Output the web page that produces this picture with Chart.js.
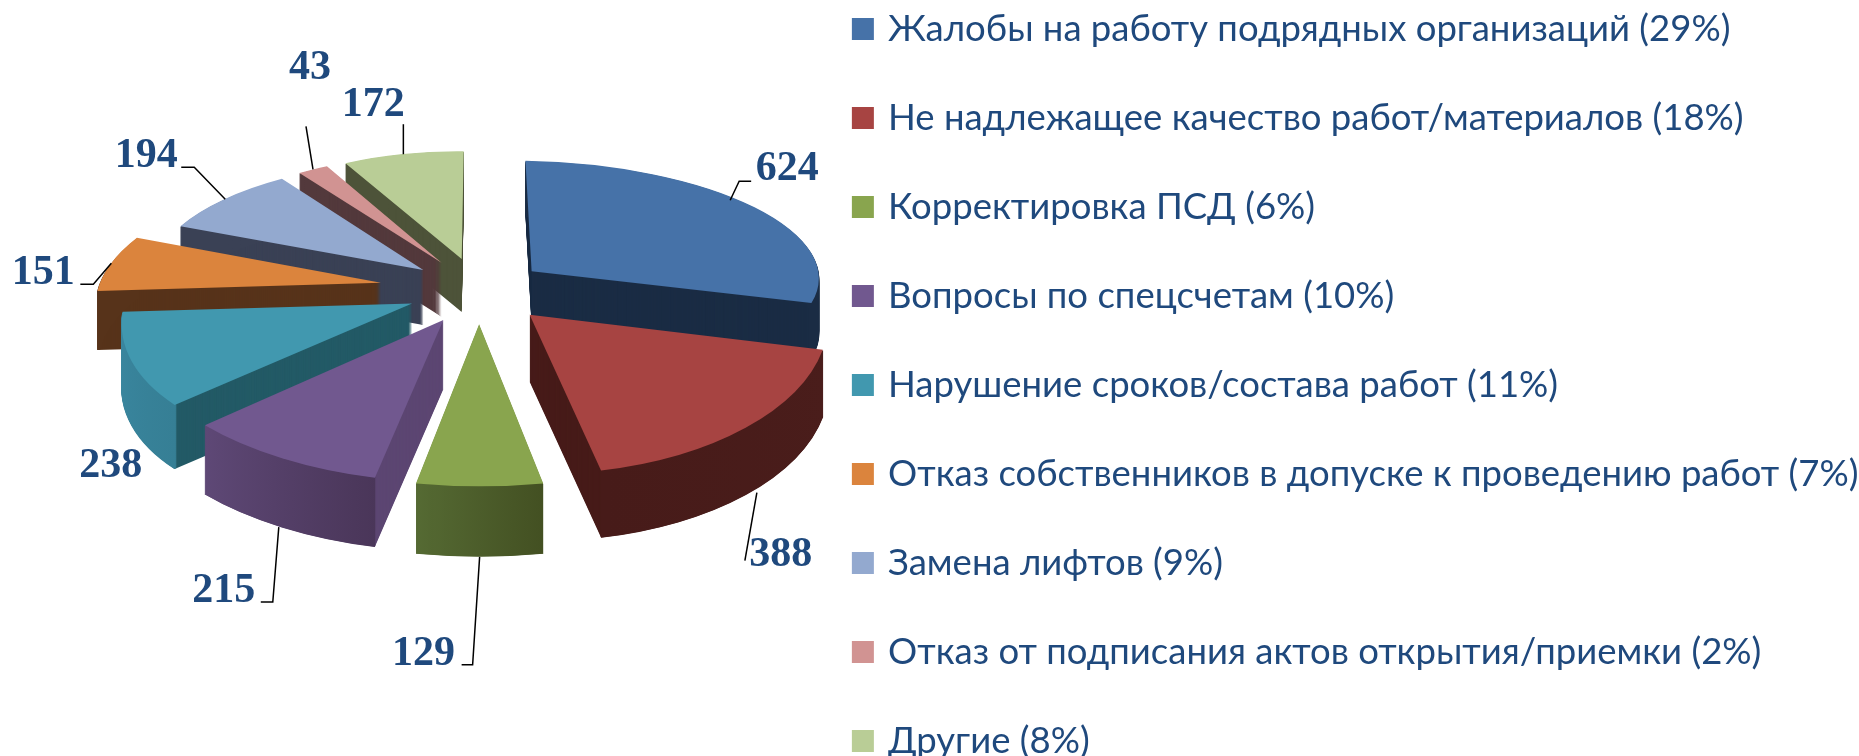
<!DOCTYPE html>
<html>
<head>
<meta charset="utf-8">
<title>Жалобы</title>
<script src="https://cdn.jsdelivr.net/npm/chart.js@4"></script>
<style>
html, body { margin: 0; padding: 0; background: #fff; overflow: hidden; height: 756px; }
canvas { display: block; }
</style>
</head>
<body>
<canvas id="pieChart" width="1859" height="1000"></canvas>
<script>
// ========== 数据 ==========
const categories = [
    'Жалобы на работу подрядных организаций',
    'Не надлежащее качество работ/материалов',
    'Корректировка ПСД',
    'Вопросы по спецсчетам',
    'Нарушение сроков/состава работ',
    'Отказ собственников в допуске к проведению работ',
    'Замена лифтов',
    'Отказ от подписания актов открытия/приемки',
    'Другие'
];
const values = [624, 388, 129, 215, 238, 151, 194, 43, 172];
const percents = [29, 18, 6, 10, 11, 7, 9, 2, 8];

// ========== 样式 ==========
const topColors = ['#4672A8', '#A74442', '#89A54E', '#71588F', '#4198AF', '#DB843D', '#93A9CF', '#D19392', '#B9CD96'];// 顶面颜色
const faceColors = ['#1A2C44', '#471B19', '#4A5A27', '#5C4672', '#235A66', '#57331A', '#3A4155', '#53393C', '#4D5339'];// 切面颜色
const rimColors = [// 外弧侧面颜色(渐变两端)
    ['#1A2C44', '#1A2C44'], ['#471B19', '#4A1D1B'], ['#556A33', '#435022'],
    ['#5E4876', '#4A3659'], ['#3A87A0', '#367F95'], ['#57331A', '#57331A'],
    ['#3A4155', '#3A4155'], ['#53393C', '#53393C'], ['#4D5339', '#4D5339']
];
const explode = [68, 72, 72, 72, 72, 100, 72, 72, 72];// 各扇区外移距离
// 引线折点和数字位置，相对于扇区外弧中点
const leaders = [
    { line: [[9, -19], [21, -19]], text: [57, -31] },
    { line: [[-12, 68]], text: [24, 62] },
    { line: [[-7, 108], [-18, 108]], text: [-56, 97] },
    { line: [[-6, 75], [-18, 75]], text: [-55, 64] },
    { line: [], text: [-19, 43] },
    { line: [[-18, 21], [-31, 21]], text: [-68, 10] },
    { line: [[-31, -32], [-44, -32]], text: [-79, -43] },
    { line: [[-7, -43]], text: [-3, -101] },
    { line: [[0, -30]], text: [-30, -49] }
];

const PIE_X = 479;// 饼图中心
const PIE_Y = 290;
const RADIUS = 283;
const TILT = 0.46;// 俯视压缩比例
const PERSPECTIVE = 0.00048;// 透视强度
const DEPTH = 60;// 饼图厚度
const LEGEND_FONT = 36.5;

// 平面坐标投影到屏幕
function project(px, py) {
    const w = 1 / (1 - PERSPECTIVE * py);
    return [PIE_X + px * w, PIE_Y + TILT * py * w, w];
}

// 用尖点和两个弧端点算出扇区的仿射变换
function sliceGeometry(arc, i) {
    const mid = (arc.startAngle + arc.endAngle) / 2;
    const ox = Math.cos(mid) * explode[i];
    const oy = Math.sin(mid) * explode[i];
    const ax = Math.cos(arc.startAngle) * RADIUS, ay = Math.sin(arc.startAngle) * RADIUS;
    const bx = Math.cos(arc.endAngle) * RADIUS, by = Math.sin(arc.endAngle) * RADIUS;
    const p0 = project(ox, oy);
    const pa = project(ox + ax, oy + ay);
    const pb = project(ox + bx, oy + by);
    const det = ax * by - ay * bx;
    const ua = [pa[0] - p0[0], pa[1] - p0[1]];
    const ub = [pb[0] - p0[0], pb[1] - p0[1]];
    const m = {
        a: (ua[0] * by - ub[0] * ay) / det,
        c: (ub[0] * ax - ua[0] * bx) / det,
        b: (ua[1] * by - ub[1] * ay) / det,
        d: (ub[1] * ax - ua[1] * bx) / det,
        e: p0[0],
        f: p0[1]
    };
    const sortKey = oy + Math.sin(mid) * RADIUS * 0.6;// 扇区重心的纵深，用于排序
    const depthY = oy + Math.sin(mid) * RADIUS * 0.8;
    const rim = project(ox + Math.cos(mid) * RADIUS, oy + Math.sin(mid) * RADIUS);
    return { m, sortKey, depth: DEPTH * project(0, depthY)[2], rim, mid };
}

function sliceTransform(ctx, arc, g, shift) {
    ctx.setTransform(g.m.a, g.m.b, g.m.c, g.m.d, g.m.e, g.m.f + shift);
    ctx.translate(-arc.x, -arc.y);
}

function arcOptions(color) {
    return { backgroundColor: color, borderWidth: 0, borderRadius: 0, offset: 0, spacing: 0, circular: true, borderAlign: 'center' };
}

// 画一个立体扇区：切面、外弧、顶面
function drawSlice(ctx, arc, i, g) {
    const original = arc.options;
    ctx.save();
    arc.options = arcOptions(faceColors[i]);
    for (let d = Math.round(g.depth); d >= 1; d--) {
        ctx.save();
        sliceTransform(ctx, arc, g, d);
        arc.draw(ctx);
        ctx.restore();
    }
    for (let d = Math.round(g.depth); d >= 1; d--) {
        ctx.save();
        sliceTransform(ctx, arc, g, d);
        const grad = ctx.createLinearGradient(
            arc.x + Math.cos(arc.startAngle) * RADIUS, arc.y + Math.sin(arc.startAngle) * RADIUS,
            arc.x + Math.cos(arc.endAngle) * RADIUS, arc.y + Math.sin(arc.endAngle) * RADIUS);
        grad.addColorStop(0, rimColors[i][1]);
        grad.addColorStop(1, rimColors[i][0]);
        ctx.strokeStyle = grad;
        ctx.lineWidth = 3;
        ctx.beginPath();
        ctx.arc(arc.x, arc.y, RADIUS - 1, arc.startAngle, arc.endAngle);
        ctx.stroke();
        ctx.restore();
    }
    arc.options = arcOptions(topColors[i]);
    ctx.save();
    sliceTransform(ctx, arc, g, 0);
    arc.draw(ctx);
    ctx.restore();
    arc.options = original;
    ctx.restore();
}

// 画数字标签和引线
function drawLabel(ctx, i, g) {
    const front = Math.sin(g.mid) > 0.3;
    const sx = g.rim[0];
    const sy = g.rim[1] + (front ? g.depth : 0);
    const item = leaders[i];
    if (item.line.length) {
        ctx.beginPath();
        ctx.moveTo(sx, sy);
        item.line.forEach(pt => ctx.lineTo(sx + pt[0], sy + pt[1]));
        ctx.strokeStyle = '#000';
        ctx.lineWidth = 1.5;
        ctx.stroke();
    }
    ctx.fillStyle = '#1F497D';
    ctx.font = 'bold 42px "Liberation Serif"';
    ctx.textAlign = 'center';
    ctx.textBaseline = 'middle';
    ctx.fillText(String(values[i]), sx + item.text[0], sy + item.text[1]);
}

const pie3d = {
    id: 'pie3d',
    afterLayout(chart) {// 图例行距很大，布局后重新定位
        const legend = chart.legend;
        legend.left = 856 - legend.options.labels.padding;
        legend.right = 1859;
        legend.top = 29 - LEGEND_FONT / 2 - legend.options.labels.padding;
        legend.bottom = 1000;
    },
    beforeDatasetDraw() {
        return false;// 不用默认的平面绘制
    },
    afterDatasetsDraw(chart) {
        const ctx = chart.ctx;
        const arcs = chart.getDatasetMeta(0).data;
        const geometry = arcs.map((arc, i) => sliceGeometry(arc, i));
        const order = arcs.map((arc, i) => i).sort((p, q) => geometry[p].sortKey - geometry[q].sortKey);
        order.forEach(i => drawSlice(ctx, arcs[i], i, geometry[i]));
        ctx.save();
        arcs.forEach((arc, i) => drawLabel(ctx, i, geometry[i]));
        ctx.restore();
    }
};

const pieChart = new Chart(document.getElementById('pieChart').getContext('2d'), {
    type: 'pie',
    data: {
        labels: categories.map((cat, i) => cat + ' (' + percents[i] + '%)'),
        datasets: [{
            data: values,
            backgroundColor: topColors,
            borderWidth: 0,
            radius: RADIUS,
            clip: false
        }]
    },
    options: {
        responsive: false,
        animation: false,
        plugins: {
            tooltip: { enabled: false },
            legend: {
                position: 'right',
                align: 'start',
                labels: {
                    color: '#1F497D',
                    font: { family: 'Lato', size: LEGEND_FONT },
                    usePointStyle: true,
                    pointStyle: 'rect',
                    boxWidth: 32 - LEGEND_FONT / 2,
                    boxHeight: 22,
                    padding: 89 - LEGEND_FONT
                }
            }
        }
    },
    plugins: [pie3d]
});
</script>
</body>
</html>
